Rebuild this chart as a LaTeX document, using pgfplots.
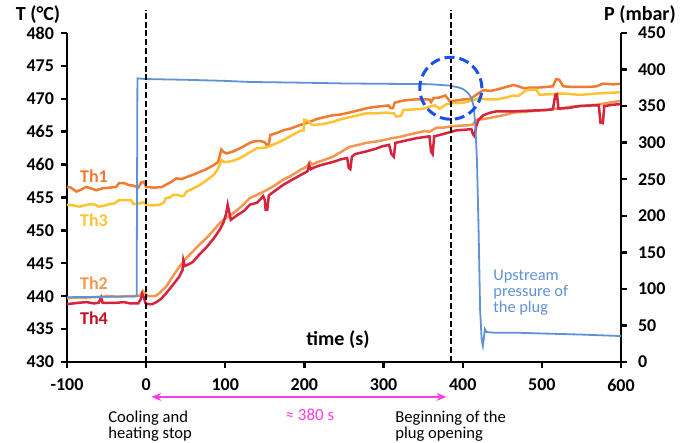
\documentclass[border=0pt]{standalone}
\usepackage{fontspec}
\setmainfont{Carlito}
\usepackage{pgfplots}
\pgfplotsset{compat=1.18}
\usetikzlibrary{arrows.meta}

\definecolor{thone}{RGB}{240,122,48}
\definecolor{ththree}{RGB}{255,195,50}
\definecolor{thtwo}{RGB}{243,150,80}
\definecolor{thfour}{RGB}{215,35,60}
\definecolor{thfourlab}{RGB}{195,15,35}
\definecolor{pblue}{RGB}{95,145,215}
\definecolor{circblue}{RGB}{25,80,235}
\definecolor{pinkarrow}{RGB}{255,60,230}

\begin{document}
\begin{tikzpicture}
\pgfplotsset{
  common/.style={
    width=277pt, height=164.5pt, scale only axis,
    xmin=-100, xmax=600,
    tick align=outside, major tick length=3pt,
    axis line style={-, line width=1.3pt},
    x axis line style={-}, y axis line style={-},
    tick style={line width=1.2pt, black},
    /pgf/number format/assume math mode=true,
    ticklabel style={font=\bfseries\fontsize{9}{10}\selectfont},
    clip=false,
  }
}
% temperatures (left axis)
\begin{axis}[common,
  axis x line*=bottom, axis y line*=left,
  ymin=430, ymax=480, ytick={430,435,...,480},
  xtick={-100,0,...,600},
  xticklabel style={yshift=-2pt},
]
% Th1
\addplot[thone, line width=1.25pt] coordinates {
(-100,456.6)(-95,456.5)(-88,455.9)(-82,456.2)(-76,456.6)(-70,456.4)(-63,456.1)(-55,456.4)
(-46,456.5)(-38,456.6)(-34,457.2)(-28,457.2)(-22,456.9)(-16,456.8)(-10,456.5)(-6,457.3)
(-3,457.4)(0,456.6)(10,456.5)(20,456.6)(26,457.0)(32,457.4)(38,457.9)(45,457.8)(51,458.1)
(58,458.4)(68,458.9)(76,459.3)(85,459.9)(91,460.4)(95,462.3)(98,461.9)(102,461.7)(110,462.0)
(119,462.5)(128,463.1)(135,463.5)(143.5,463.6)(150,463.4)(152,463.0)(155,463.1)(157,464.5)
(165,464.8)(173,465.2)(183,465.5)(194,466.0)(205,466.4)(215,466.9)(225,467.2)(236,467.5)
(245,467.6)(253,467.8)(260,468.0)(270,468.3)(280,468.6)(291,468.8)(300,468.9)(306,469.0)
(309,468.6)(312,468.6)(314,469.4)(320,469.6)(329,469.8)(340,469.9)(350,469.9)(358,469.9)
(360,469.5)(363,470.1)(371,470.2)(378,470.5)(384,469.6)(390,469.7)(401,469.9)(410,470.0)
(417,470.6)(426,471.3)(435,471.2)(443,471.4)(452,471.7)(464,472.1)(470,471.9)(478,471.6)
(485,471.7)(495,471.7)(506,471.8)(514,471.9)(518,473.0)(522,472.9)(527,471.9)(538,471.8)
(548,471.8)(560,471.8)(569,471.9)(577,472.3)(590,472.2)(600,472.3)
};
% Th3
\addplot[ththree, line width=1.25pt] coordinates {
(-100,453.9)(-92,453.8)(-84,453.6)(-78,453.8)(-70,454.0)(-64,453.9)(-60,453.6)(-52,453.8)
(-46,454.0)(-40,454.1)(-34,454.6)(-28,454.6)(-19,454.6)(-16,454.0)(-8,454.1)(-3,454.3)
(0,453.9)(8,453.8)(17,453.9)(22,454.2)(25,454.9)(30,455.0)(34,455.4)(40,455.4)(44,455.2)
(48,455.3)(51,455.9)(60,456.4)(68,456.9)(76,457.6)(85,458.4)(90,459.2)(95.5,460.7)(98,460.4)
(102,460.4)(110,460.6)(119,461.0)(130,461.8)(140,462.5)(152,462.6)(160,463.0)(173,463.7)
(185,464.5)(194,465.1)(199,465.2)(200,466.8)(205,466.6)(209,466.1)(211,466.0)(225,466.2)
(236,466.5)(246,466.9)(257,467.2)(268,467.5)(278,467.8)(290,467.8)(303,467.9)(313,467.8)
(316,467.3)(322,467.4)(325,468.3)(341,468.4)(350,468.5)(358,468.8)(365,469.0)(371,468.5)
(378,469.1)(384,469.3)(401,469.4)(410,469.7)(422,470.1)(430,469.9)(443,469.9)(455,470.2)
(464,470.5)(470,470.4)(480,471.3)(485,471.4)(493,471.4)(497,470.6)(510,470.7)(527,470.8)
(548,470.6)(569,470.8)(585,470.9)(600,471.0)
};
% Th2
\addplot[thtwo, line width=1.25pt] coordinates {
(-100,439.7)(-90,439.8)(-75,439.8)(-60,439.9)(-45,440.0)(-37,439.9)(-25,440.0)(-15,440.0)
(-8,440.1)(-4,440.8)(-1,440.4)(2,440.0)(8,440.0)(13,440.1)(18,440.6)(25,441.4)(33,442.9)
(42,444.5)(50,445.7)(59,446.8)(67,447.8)(76,448.8)(85,450.0)(93,451.1)(100,451.8)(110,452.6)
(120,453.6)(131,454.9)(140,455.4)(152,456.1)(162,456.8)(173,457.7)(183,458.3)(195,459.2)
(203,459.7)(207,460.4)(210,460.0)(215,460.3)(225,460.7)(236,461.2)(246,461.9)(257,462.7)
(268,463.0)(278,463.3)(290,463.5)(299,463.7)(310,464.0)(320,464.2)(330,464.5)(341,464.8)
(352,465.1)(358,465.0)(367,465.6)(375,465.6)(384,465.8)(395,465.9)(409,466.0)(413,466.1)
(417,466.8)(425,466.9)(435,467.1)(443,467.3)(455,467.6)(464,467.9)(475,468.0)(485,468.1)
(495,468.2)(506,468.3)(516,468.5)(527,468.6)(538,468.8)(548,468.9)(559,469.0)(569,469.1)
(580,469.3)(590,469.5)(600,469.7)
};
% Th4
\addplot[thfour, line width=1.25pt] coordinates {
(-100,438.8)(-92,438.9)(-85,439.0)(-75,439.1)(-66,438.9)(-60,439.0)(-57,439.8)(-55,439.0)
(-45,439.0)(-37,439.0)(-28,439.1)(-20,438.9)(-10,438.9)(-7,439.5)(-5,440.4)(-3,439.9)
(-1,439.0)(2,438.8)(8,438.8)(13,439.1)(19,439.6)(25,440.4)(33,441.6)(42,443.0)(46,444.0)
(47,445.5)(49,444.6)(53,444.8)(59,445.2)(67,446.3)(76,447.4)(85,448.7)(93,450.1)(98,451.3)
(101,452.5)(103,453.9)(105,452.8)(107,451.6)(115,452.3)(124,453.0)(131,453.9)(140,454.2)
(148,455.2)(150,454.6)(151,453.1)(153,453.1)(155,455.3)(158,455.6)(165,456.2)(173,456.9)
(183,457.6)(195,458.4)(204,459.0)(206,459.9)(208,459.3)(211,459.5)(220,459.9)(236,460.4)
(246,460.8)(254,461.0)(256,459.5)(258,459.3)(260,461.2)(264,461.6)(278,462.0)(290,462.4)
(299,462.8)(307,463.0)(310,461.6)(313,461.2)(315,463.3)(326,463.6)(341,464.0)(352,464.2)
(358,464.3)(360,462.0)(362,461.6)(364,464.3)(371,464.5)(380,464.8)(392,465.2)(403,465.3)
(411,465.4)(413,464.6)(415,464.3)(417,465.8)(420,466.8)(426,467.5)(435,467.9)(443,468.1)
(464,468.1)(485,468.2)(506,468.3)(514,468.4)(517,470.6)(519,470.7)(521,468.5)(533,468.6)
(548,468.9)(565,469.0)(572,469.0)(574,466.4)(577,466.3)(579,468.9)(590,469.1)(600,469.2)
};
\end{axis}
% pressure (right axis)
\begin{axis}[common,
  axis x line=none, axis y line*=right,
  ymin=0, ymax=450, ytick={0,50,...,450},
  yticklabel style={xshift=2pt},
]
\addplot[pblue, line width=0.9pt] coordinates {
(-100,88.5)(-80,89.0)(-60,89.0)(-40,89.5)(-20,89.5)(-12,90)(-11,388)(0,387)(50,386)
(100,384.5)(131,383)(200,382)(250,381)(300,380.5)(358,380)(384,378)(395,375.5)(401,373)
(407,367.5)(411,361)(414,349)(416,322)(418,276)(420,185)(422,71)(424,30)(425.5,22)(427,35)
(428,45)(430,41)(440,40)(470,40)(500,39)(550,37.5)(600,35.5)
};
% event markers
\draw[black, line width=1.2pt, dash pattern=on 3pt off 1.4pt] (axis cs:0,0) -- (axis cs:0,481.5);
\draw[black, line width=1.2pt, dash pattern=on 3pt off 1.4pt] (axis cs:385,0) -- (axis cs:385,481.5);
\draw[circblue, line width=1.5pt, dash pattern=on 5pt off 2.5pt] (axis cs:385,374.4) circle[radius=15.5pt];
\draw[pinkarrow, line width=1pt, {Stealth[length=5pt,width=4pt]}-{Stealth[length=5pt,width=4pt]}]
  (axis cs:6.5,-47.7) -- (axis cs:379.5,-47.7);
\end{axis}
% titles and annotations
\node[font=\bfseries\fontsize{10}{12}\selectfont] at (-14.5pt,173.5pt) {T (°C)};
\node[font=\bfseries\fontsize{10}{12}\selectfont] at (286.5pt,173.5pt) {P (mbar)};
\node[font=\bfseries\fontsize{10}{12}\selectfont] at (135.5pt,11pt) {time (s)};
\node[font=\bfseries\fontsize{9}{10}\selectfont, text=thone] at (13.5pt,93pt) {Th1};
\node[font=\bfseries\fontsize{9}{10}\selectfont, text=ththree] at (13.5pt,71pt) {Th3};
\node[font=\bfseries\fontsize{9}{10}\selectfont, text=thtwo] at (13.5pt,39.5pt) {Th2};
\node[font=\bfseries\fontsize{9}{10}\selectfont, text=thfourlab] at (13.5pt,22pt) {Th4};
\node[font=\fontsize{8.2}{8}\selectfont, text=pblue, anchor=west, align=left, inner sep=0pt] at (213pt,34.5pt) {Upstream\\pressure of\\the plug};
\node[font=\fontsize{8.3}{7.6}\selectfont, anchor=north west, align=left, inner sep=0pt] at (20.5pt,-24.5pt) {Cooling and\\heating stop};
\node[font=\fontsize{8.3}{7.6}\selectfont, anchor=north west, align=left, inner sep=0pt] at (164pt,-24.5pt) {Beginning of the\\plug opening};
\node[font=\fontsize{8.5}{10}\selectfont, text=pinkarrow] at (121.5pt,-26.5pt) {≈ 380 s};
\pgfresetboundingbox
\path (-33.5pt,-40.5pt) rectangle (312.5pt,181pt);
\end{tikzpicture}
\end{document}
